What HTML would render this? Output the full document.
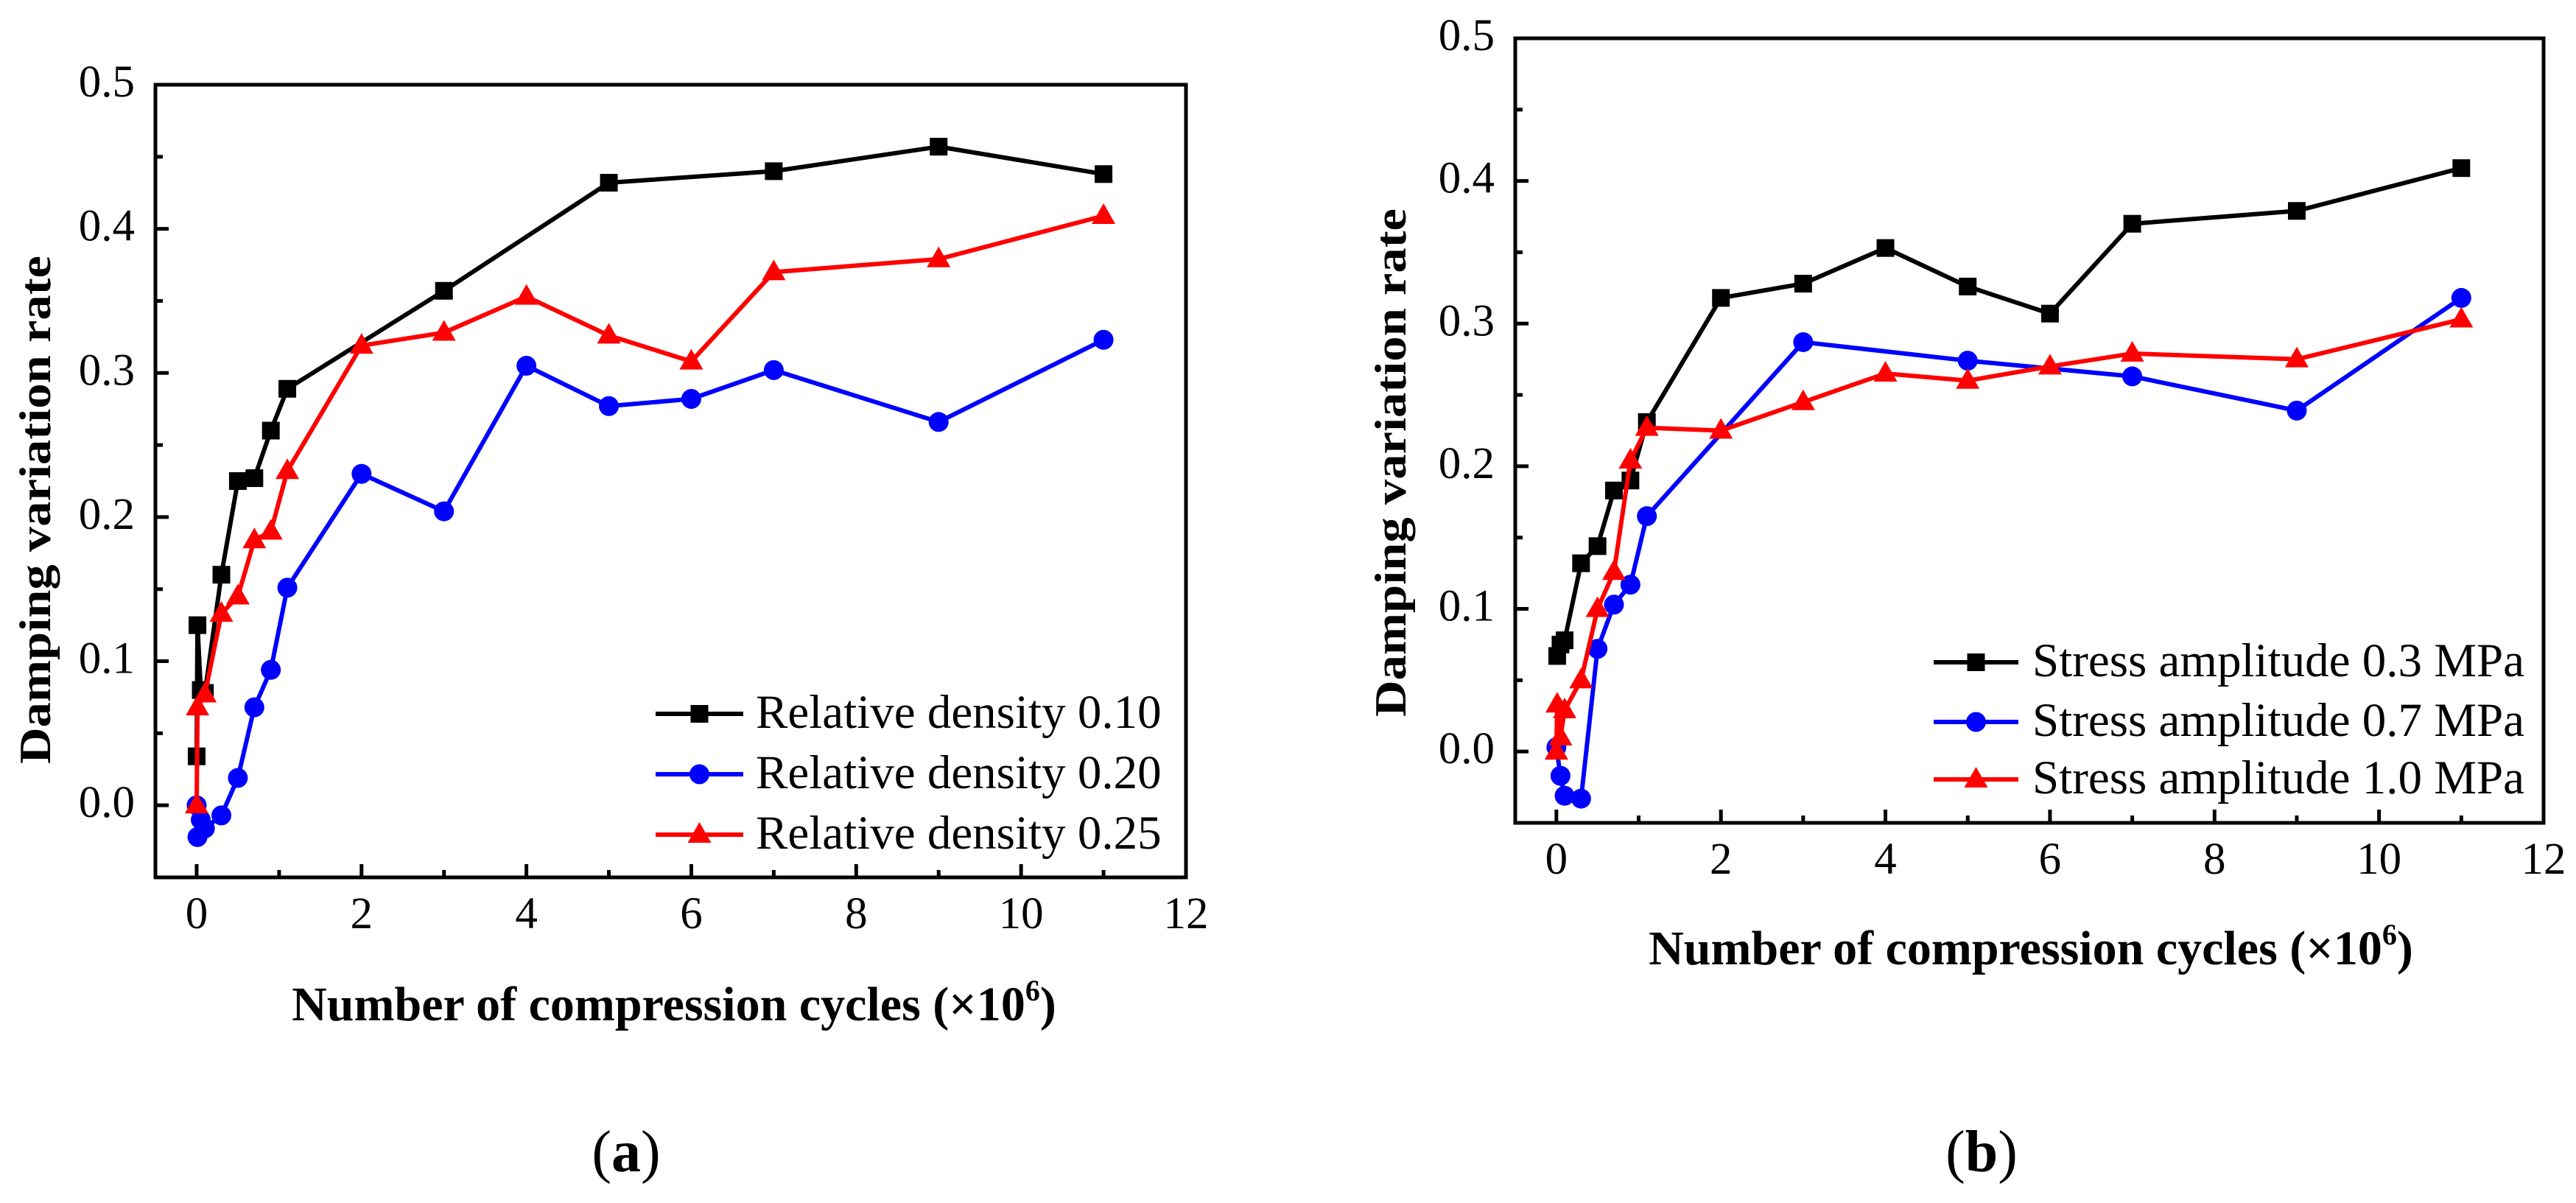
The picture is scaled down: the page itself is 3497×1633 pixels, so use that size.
<!DOCTYPE html>
<html><head><meta charset="utf-8">
<style>
html,body{margin:0;padding:0;background:#fff;}
svg{display:block;font-family:"Liberation Serif","DejaVu Serif",serif;}
svg text{font-family:"Liberation Serif","DejaVu Serif",serif;}
</style></head>
<body>
<svg id="fig" width="3497" height="1633" viewBox="0 0 3497 1633" xmlns="http://www.w3.org/2000/svg" font-family="Liberation Serif, serif"></svg>
<script>
// ---- data: panel (a)
const aBlackX=[0,0.01,0.05,0.1,0.3,0.5,0.7,0.9,1.1,3,5,7,9,11];
const aBlackY=[0.034,0.125,0.08,0.078,0.16,0.225,0.227,0.26,0.289,0.357,0.432,0.44,0.457,0.438];
const aBlueX=[0,0.01,0.05,0.1,0.3,0.5,0.7,0.9,1.1,2,3,4,5,6,7,9,11];
const aBlueY=[0.0,-0.022,-0.01,-0.016,-0.007,0.019,0.068,0.094,0.151,0.23,0.204,0.305,0.277,0.282,0.302,0.266,0.323];
const aRedX=[0,0.01,0.1,0.3,0.5,0.7,0.9,1.1,2,3,4,5,6,7,9,11];
const aRedY=[0.0,0.068,0.077,0.133,0.145,0.184,0.19,0.232,0.319,0.328,0.353,0.326,0.308,0.37,0.379,0.409];
const aLegend=["Relative density 0.10","Relative density 0.20","Relative density 0.25"];
// ---- data: panel (b)
const bBlackX=[0.01,0.05,0.1,0.3,0.5,0.7,0.9,1.1,2,3,4,5,6,7,9,11];
const bBlackY=[0.067,0.075,0.078,0.132,0.144,0.183,0.19,0.231,0.318,0.328,0.353,0.326,0.307,0.37,0.379,0.409];
const bBlueX=[0,0.05,0.1,0.3,0.5,0.7,0.9,1.1,3,5,7,9,11];
const bBlueY=[0.003,-0.017,-0.031,-0.033,0.072,0.103,0.117,0.165,0.287,0.274,0.263,0.239,0.318];
const bRedX=[0,0.01,0.05,0.1,0.3,0.5,0.7,0.9,1.1,2,3,4,5,6,7,9,11];
const bRedY=[0.0,0.033,0.01,0.029,0.05,0.1,0.126,0.204,0.227,0.225,0.245,0.265,0.26,0.27,0.279,0.275,0.303];
const bLegend=["Stress amplitude 0.3 MPa","Stress amplitude 0.7 MPa","Stress amplitude 1.0 MPa"];
// ---- ticks
const xTickLabels=["0","2","4","6","8","10","12"];
const xTickVals=[0,2,4,6,8,10,12];
const xMinorVals=[1,3,5,7,9,11];
const yTickLabels=["0.0","0.1","0.2","0.3","0.4","0.5"];
const yTickVals=[0,0.1,0.2,0.3,0.4,0.5];
const yMinorVals=[-0.05,0.05,0.15,0.25,0.35,0.45];

const NS="http://www.w3.org/2000/svg";
const svg=document.getElementById('fig');
function el(tag,attrs,parent){const e=document.createElementNS(NS,tag);for(const k in attrs)e.setAttribute(k,attrs[k]);(parent||svg).appendChild(e);return e;}

function marker(g,shape,cx,cy,color){
  let m;
  if(shape==='square'){m=el('rect',{x:cx-12,y:cy-12,width:24,height:24,fill:color},g);}
  else if(shape==='circle'){m=el('circle',{cx:cx,cy:cy,r:13.5,fill:color},g);}
  else {m=el('polygon',{points:`${cx},${cy-17} ${cx+16},${cy+11} ${cx-16},${cy+11}`,fill:color},g);}
  return m;
}

function panel(cfg){
  const g=el('g',{});
  
  
  const X=v=>cfg.x0+(v-(-0.5))*(cfg.x1-cfg.x0)/12.5;
  const Y=v=>cfg.y1-(v-(-0.05))*(cfg.y1-cfg.y0)/0.55;
  cfg.series.forEach(s=>{
    const sg=el('g',{},g);
    
    
    const pts=s.x.map((v,i)=>X(v)+','+Y(s.y[i])).join(' ');
    const pl=el('polyline',{points:pts,fill:'none',stroke:s.color,'stroke-width':6,'stroke-linejoin':'round'},sg);
    
    
    s.x.forEach((v,i)=>{
      const m=marker(sg,s.shape,X(v),Y(s.y[i]),s.color);
      
      
    });
  });
  const fr=el('rect',{x:cfg.x0,y:cfg.y0,width:cfg.x1-cfg.x0,height:cfg.y1-cfg.y0,fill:'none',stroke:'#000','stroke-width':5},g);
  
  
  xTickVals.forEach((v,i)=>{
    el('line',{x1:X(v),x2:X(v),y1:cfg.y1,y2:cfg.y1-18,stroke:'#000','stroke-width':5},g);
    const t=el('text',{x:X(v),y:cfg.y1+69,'font-size':61,'text-anchor':'middle'},g);
    t.textContent=xTickLabels[i];
    
    
  });
  xMinorVals.forEach(v=>{el('line',{x1:X(v),x2:X(v),y1:cfg.y1,y2:cfg.y1-10,stroke:'#000','stroke-width':5},g);});
  yTickVals.forEach((v,i)=>{
    el('line',{x1:cfg.x0,x2:cfg.x0+18,y1:Y(v),y2:Y(v),stroke:'#000','stroke-width':5},g);
    const t=el('text',{x:cfg.x0-28,y:Y(v)+16,'font-size':61,'text-anchor':'end'},g);
    t.textContent=yTickLabels[i];
    
    
  });
  yMinorVals.forEach(v=>{el('line',{x1:cfg.x0,x2:cfg.x0+10,y1:Y(v),y2:Y(v),stroke:'#000','stroke-width':5},g);});
  const yt=el('text',{x:0,y:0,'font-size':60,'font-weight':'bold','text-anchor':'middle',transform:`translate(${cfg.ytx},${cfg.yty}) rotate(-90)`,textLength:690,lengthAdjust:'spacingAndGlyphs'},g);
  yt.textContent='Damping variation rate';
  
  
  const xt=el('text',{x:cfg.xtx,y:cfg.xty,'font-size':66,'font-weight':'bold','text-anchor':'middle'},g);
  
  
  xt.appendChild(document.createTextNode('Number of compression cycles (×10'));
  const sup=el('tspan',{'font-size':40,dy:-27},xt); sup.textContent='6';
  const cl=el('tspan',{dy:27},xt); cl.textContent=')';
  cfg.series.forEach((s,i)=>{
    const lg=el('g',{},g);
    
    
    const ly=cfg.legY[i];
    el('line',{x1:cfg.legX0,x2:cfg.legX1,y1:ly,y2:ly,stroke:s.color,'stroke-width':6},lg);
    marker(lg,s.shape,(cfg.legX0+cfg.legX1)/2,ly,s.color);
    const t=el('text',{x:cfg.legTX,y:ly+19,'font-size':65},lg);
    t.textContent=cfg.legend[i];
  });
  const pl=el('text',{x:cfg.plx,y:1590,'font-size':80,'text-anchor':'middle'},g);
  
  
  pl.appendChild(document.createTextNode('('));
  const b=el('tspan',{'font-weight':'bold'},pl); b.textContent=cfg.letter;
  pl.appendChild(document.createTextNode(')'));
}

panel({name:'panel-a',x0:211,x1:1610,y0:115,y1:1191,ytx:68,yty:692,xtx:915,xty:1385,
  legX0:890,legX1:1009,legTX:1026,legY:[969,1051,1133],legend:aLegend,plx:850,letter:'a',
  series:[{name:'series-density-0.10',x:aBlackX,y:aBlackY,color:'#000',shape:'square'},
          {name:'series-density-0.20',x:aBlueX,y:aBlueY,color:'#0000ff',shape:'circle'},
          {name:'series-density-0.25',x:aRedX,y:aRedY,color:'#ff0000',shape:'triangle'}]});
panel({name:'panel-b',x0:2057,x1:3453,y0:52,y1:1117,ytx:1908,yty:628,xtx:2757,xty:1309,
  legX0:2625,legX1:2740,legTX:2759,legY:[899,980,1058],legend:bLegend,plx:2690,letter:'b',
  series:[{name:'series-stress-0.3',x:bBlackX,y:bBlackY,color:'#000',shape:'square'},
          {name:'series-stress-0.7',x:bBlueX,y:bBlueY,color:'#0000ff',shape:'circle'},
          {name:'series-stress-1.0',x:bRedX,y:bRedY,color:'#ff0000',shape:'triangle'}]});
</script>
</body></html>
